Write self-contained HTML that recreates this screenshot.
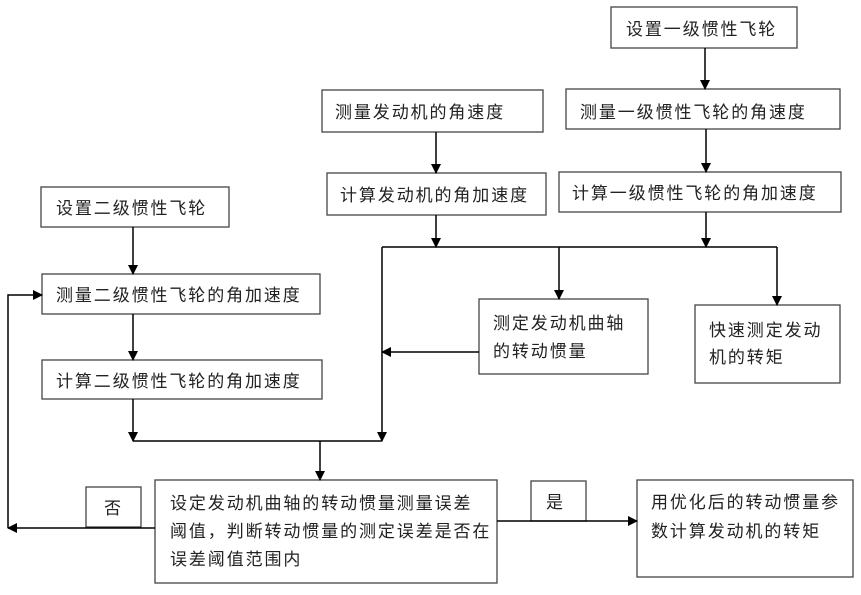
<!DOCTYPE html>
<html><head><meta charset="utf-8"><style>
html,body{margin:0;padding:0;background:#fff;}
svg text{font-family:"Liberation Sans","Noto Sans CJK SC",sans-serif;font-size:17px;letter-spacing:1.9px;fill:#222;}
</style></head><body>
<svg width="861" height="590" viewBox="0 0 861 590" xmlns="http://www.w3.org/2000/svg">
<defs><marker id="a" markerWidth="10" markerHeight="10" refX="9" refY="5" orient="auto" markerUnits="userSpaceOnUse"><path d="M0,0 L10,5 L0,10 z" fill="#000"/></marker></defs>
<g fill="none" stroke="#444" stroke-width="1.3">
<rect x="611" y="7" width="186" height="41"/>
<rect x="322" y="90" width="221" height="42"/>
<rect x="566" y="89" width="274" height="40"/>
<rect x="327" y="173" width="219" height="42"/>
<rect x="559" y="172" width="282" height="40"/>
<rect x="41" y="187" width="188" height="40"/>
<rect x="42" y="274" width="278" height="40"/>
<rect x="42" y="360" width="280" height="39"/>
<rect x="479" y="299" width="169" height="75"/>
<rect x="695" y="305" width="145" height="78"/>
<rect x="155" y="480" width="342" height="103"/>
<rect x="86" y="487" width="55" height="40"/>
<rect x="531" y="481" width="55" height="40"/>
<rect x="637" y="480" width="216" height="97"/>
</g>
<g stroke="#000" stroke-width="1.5" fill="none">
<line x1="705" y1="48" x2="705" y2="89" marker-end="url(#a)"/>
<line x1="706" y1="129" x2="706" y2="172" marker-end="url(#a)"/>
<line x1="436" y1="132" x2="436" y2="173" marker-end="url(#a)"/>
<line x1="436" y1="215" x2="436" y2="247" marker-end="url(#a)"/>
<line x1="706" y1="212" x2="706" y2="247" marker-end="url(#a)"/>
<line x1="382" y1="247" x2="777" y2="247"/>
<line x1="559" y1="247" x2="559" y2="299" marker-end="url(#a)"/>
<line x1="777" y1="247" x2="777" y2="305" marker-end="url(#a)"/>
<line x1="382" y1="247" x2="382" y2="441" marker-end="url(#a)"/>
<line x1="479" y1="352" x2="382" y2="352" marker-end="url(#a)"/>
<line x1="133" y1="227" x2="133" y2="274" marker-end="url(#a)"/>
<line x1="133" y1="314" x2="133" y2="360" marker-end="url(#a)"/>
<line x1="133" y1="399" x2="133" y2="441" marker-end="url(#a)"/>
<line x1="133" y1="441" x2="382" y2="441"/>
<line x1="320" y1="441" x2="320" y2="480" marker-end="url(#a)"/>
<line x1="155" y1="528" x2="8" y2="528" marker-end="url(#a)"/>
<polyline points="8,528 8,295 42,295" marker-end="url(#a)"/>
<line x1="497" y1="521" x2="637" y2="521" marker-end="url(#a)"/>
</g>
<text x="626" y="35">设置一级惯性飞轮</text>
<text x="335" y="118">测量发动机的角速度</text>
<text x="580" y="118">测量一级惯性飞轮的角速度</text>
<text x="340" y="201">计算发动机的角加速度</text>
<text x="572" y="199">计算一级惯性飞轮的角加速度</text>
<text x="56" y="214">设置二级惯性飞轮</text>
<text x="56" y="301">测量二级惯性飞轮的角加速度</text>
<text x="56" y="387">计算二级惯性飞轮的角加速度</text>
<text x="493" y="329">测定发动机曲轴</text>
<text x="493" y="357">的转动惯量</text>
<text x="709" y="336">快速测定发动</text>
<text x="709" y="363">机的转矩</text>
<text x="170" y="509">设定发动机曲轴的转动惯量测量误差</text>
<text x="170" y="537">阈值，判断转动惯量的测定误差是否在</text>
<text x="170" y="565">误差阈值范围内</text>
<text x="104" y="514">否</text>
<text x="546" y="508">是</text>
<text x="651" y="508">用优化后的转动惯量参</text>
<text x="651" y="537">数计算发动机的转矩</text>
</svg>
</body></html>
